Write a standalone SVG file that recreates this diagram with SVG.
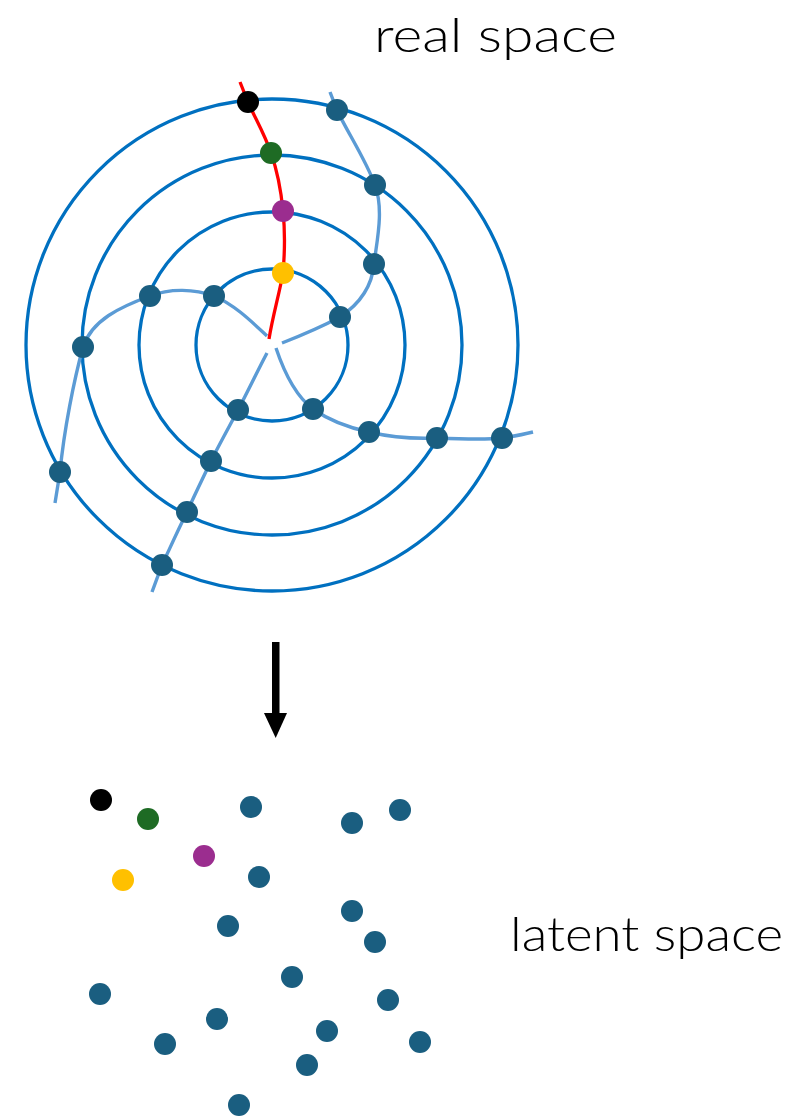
<svg xmlns="http://www.w3.org/2000/svg" width="793" height="1117" viewBox="0 0 793 1117">
<style>
.ring{fill:none;stroke:#0070c0;stroke-width:3.3}
.sp{fill:none;stroke:#5b9bd5;stroke-width:3.4}
.red{fill:none;stroke:#ff0000;stroke-width:3.3}
.t{fill:#1a5e80}
.k{fill:#000}
.g{fill:#1e6b24}
.p{fill:#9b2d8f}
.y{fill:#ffc000}
.lbl{font-family:Lato,"Open Sans","Liberation Sans",sans-serif;font-weight:300;font-size:47px;fill:#000}
</style>
<rect width="793" height="1117" fill="#fff"/>
<g id="rings">
<circle class="ring" cx="272" cy="345" r="246"/>
<circle class="ring" cx="272" cy="345" r="190"/>
<circle class="ring" cx="272" cy="345" r="133"/>
<circle class="ring" cx="272" cy="345" r="76"/>
</g>
<g id="connectors">
<path class="sp" d="M282,343 C305,334 325,325 340,317 C358,305 372,287 374,264 C377,240 384,210 375,185 C366,160 345,128 337,110 L330,92"/>
<path class="sp" d="M267,336 C252,322 235,305 214,296 C195,289 170,288 150,296 C120,307 92,320 83,347 C74,380 64,430 60,472 L55,503"/>
<path class="sp" d="M276,348 C285,375 297,397 313,409 C330,421 350,428 369,432 C390,437 415,439 437,438 C460,439 485,440 502,438 C515,436 525,434 533,432"/>
<path class="sp" d="M267,353 C258,370 247,393 238,410 C229,427 219,445 211,461 C203,478 195,494 187,512 C178,530 170,548 162,565 L152,592"/>
<path class="red" d="M269,339 C273,315 279,295 283,273 C285,250 285,230 283,211 C281,190 277,170 271,153 C265,135 255,118 248,102 L240,82"/>
</g>
<g id="real-nodes">
<g id="r-black"><circle class="k" cx="248" cy="102" r="11"/></g>
<g id="r-green"><circle class="g" cx="271" cy="153" r="11"/></g>
<g id="r-purple"><circle class="p" cx="283" cy="211" r="11"/></g>
<g id="r-yellow"><circle class="y" cx="283" cy="273" r="11"/></g>
<g id="r1"><circle class="t" cx="337" cy="110" r="11"/></g>
<g id="r2"><circle class="t" cx="502" cy="438" r="11"/></g>
<g id="r3"><circle class="t" cx="162" cy="565" r="11"/></g>
<g id="r4"><circle class="t" cx="60" cy="472" r="11"/></g>
<g id="r5"><circle class="t" cx="375" cy="185" r="11"/></g>
<g id="r6"><circle class="t" cx="437" cy="438" r="11"/></g>
<g id="r7"><circle class="t" cx="187" cy="512" r="11"/></g>
<g id="r8"><circle class="t" cx="83" cy="347" r="11"/></g>
<g id="r9"><circle class="t" cx="374" cy="264" r="11"/></g>
<g id="r10"><circle class="t" cx="369" cy="432" r="11"/></g>
<g id="r11"><circle class="t" cx="211" cy="461" r="11"/></g>
<g id="r12"><circle class="t" cx="150" cy="296" r="11"/></g>
<g id="r13"><circle class="t" cx="340" cy="317" r="11"/></g>
<g id="r14"><circle class="t" cx="313" cy="409" r="11"/></g>
<g id="r15"><circle class="t" cx="238" cy="410" r="11"/></g>
<g id="r16"><circle class="t" cx="214" cy="296" r="11"/></g>
</g>
<g id="arrow">
<rect x="272" y="642" width="7.5" height="74" fill="#000"/>
<polygon points="264,713 287,713 275.7,738" fill="#000"/>
</g>
<g id="latent-nodes">
<g id="l-black"><circle class="k" cx="101" cy="800" r="11"/></g>
<g id="l-green"><circle class="g" cx="148" cy="819" r="11"/></g>
<g id="l-purple"><circle class="p" cx="204" cy="856" r="11"/></g>
<g id="l-yellow"><circle class="y" cx="123" cy="880" r="11"/></g>
<g id="l1"><circle class="t" cx="251" cy="807" r="11"/></g>
<g id="l2"><circle class="t" cx="352" cy="823" r="11"/></g>
<g id="l3"><circle class="t" cx="400" cy="810" r="11"/></g>
<g id="l4"><circle class="t" cx="259" cy="877" r="11"/></g>
<g id="l5"><circle class="t" cx="228" cy="926" r="11"/></g>
<g id="l6"><circle class="t" cx="352" cy="911" r="11"/></g>
<g id="l7"><circle class="t" cx="375" cy="942" r="11"/></g>
<g id="l8"><circle class="t" cx="292" cy="977" r="11"/></g>
<g id="l9"><circle class="t" cx="100" cy="994" r="11"/></g>
<g id="l10"><circle class="t" cx="388" cy="1000" r="11"/></g>
<g id="l11"><circle class="t" cx="217" cy="1019" r="11"/></g>
<g id="l12"><circle class="t" cx="327" cy="1031" r="11"/></g>
<g id="l13"><circle class="t" cx="165" cy="1044" r="11"/></g>
<g id="l14"><circle class="t" cx="420" cy="1042" r="11"/></g>
<g id="l15"><circle class="t" cx="307" cy="1065" r="11"/></g>
<g id="l16"><circle class="t" cx="239" cy="1105" r="11"/></g>
</g>
<g id="labels">
<text class="lbl" x="374" y="52" textLength="243" lengthAdjust="spacingAndGlyphs">real space</text>
<text class="lbl" x="510" y="951" textLength="273" lengthAdjust="spacingAndGlyphs">latent space</text>
</g>
</svg>
